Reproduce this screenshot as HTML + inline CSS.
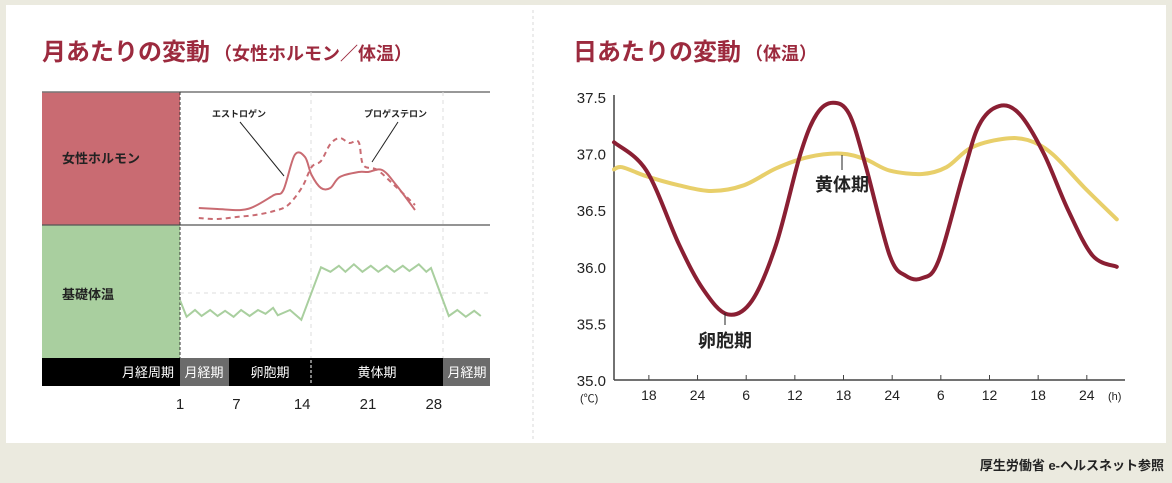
<!DOCTYPE html>
<html><head><meta charset="utf-8">
<style>
html,body{margin:0;padding:0;background:#ebeadf;}
body{width:1172px;height:478px;position:relative;overflow:hidden;font-family:"Liberation Sans","Noto Sans CJK JP",sans-serif;}
svg text{font-family:"Liberation Sans","Noto Sans CJK JP",sans-serif;}
</style></head>
<body>
<svg id="root" width="1172" height="478">
  <rect x="6" y="5" width="1160" height="438" fill="#ffffff"/>
  <line x1="533" y1="10" x2="533" y2="440" stroke="#d8d8d8" stroke-dasharray="3,3"/>
  <text x="42" y="60" font-size="24" font-weight="bold" fill="#9c2a3e">月あたりの変動<tspan font-size="18" dx="4">（女性ホルモン／体温）</tspan></text>
  <text x="573" y="60" font-size="24" font-weight="bold" fill="#9c2a3e">日あたりの変動<tspan font-size="18" dx="4">（体温）</tspan></text>
  <text x="1164" y="470" font-size="13" font-weight="bold" fill="#222" text-anchor="end">厚生労働省 e-ヘルスネット参照</text>

  <!-- left chart -->
  <g id="left">
    <rect x="42" y="92" width="138" height="133" fill="#c96b72"/>
    <rect x="42" y="225" width="138" height="133" fill="#a9cf9f"/>
    <text x="62" y="163" font-size="13" font-weight="bold" fill="#222">女性ホルモン</text>
    <text x="62" y="299" font-size="13" font-weight="bold" fill="#222">基礎体温</text>
    <line x1="42" y1="92" x2="490" y2="92" stroke="#777" stroke-width="1.5"/>
    <line x1="42" y1="225" x2="490" y2="225" stroke="#555" stroke-width="1.2"/>
    <line x1="180" y1="92" x2="180" y2="358" stroke="#333" stroke-dasharray="3,2"/>
    <line x1="311" y1="92" x2="311" y2="358" stroke="#ddd" stroke-dasharray="4,4"/>
    <line x1="443" y1="92" x2="443" y2="358" stroke="#ddd" stroke-dasharray="4,4"/>
    <line x1="180" y1="293" x2="490" y2="293" stroke="#ddd" stroke-dasharray="4,4"/>
    <rect x="42" y="358" width="448" height="28" fill="#000"/>
    <rect x="180" y="358" width="49" height="28" fill="#6b6b6b"/>
    <rect x="443" y="358" width="47" height="28" fill="#6b6b6b"/>
    <line x1="311" y1="360" x2="311" y2="384" stroke="#fff" stroke-dasharray="3,2"/>
    <text x="174" y="377" font-size="13" fill="#fff" text-anchor="end">月経周期</text>
    <text x="204" y="377" font-size="13" fill="#fff" text-anchor="middle">月経期</text>
    <text x="270" y="377" font-size="13" fill="#fff" text-anchor="middle">卵胞期</text>
    <text x="377" y="377" font-size="13" fill="#fff" text-anchor="middle">黄体期</text>
    <text x="467" y="377" font-size="13" fill="#fff" text-anchor="middle">月経期</text>
    <g id="leftTicks"></g>
    <path id="progPath" fill="none" stroke="#c96b72" stroke-width="2" stroke-dasharray="5,4"/>
    <path id="estPath" fill="none" stroke="#c96b72" stroke-width="2"/>
    <path id="bbtPath" fill="none" stroke="#a9cf9f" stroke-width="2"/>
    <text x="212" y="117" font-size="9" font-weight="bold" fill="#222">エストロゲン</text>
    <line x1="240" y1="122" x2="284" y2="176" stroke="#222" stroke-width="1"/>
    <text x="364" y="117" font-size="9" font-weight="bold" fill="#222">プロゲステロン</text>
    <line x1="398" y1="122" x2="372" y2="162" stroke="#222" stroke-width="1"/>
  </g>

  <!-- right chart -->
  <g id="right">
    <line x1="614" y1="95" x2="614" y2="380" stroke="#444" stroke-width="1.5"/>
    <line x1="614" y1="380" x2="1125" y2="380" stroke="#444" stroke-width="1.5"/>
    <g id="yTicks"></g><g id="xTicks"></g>
    <text x="580" y="402" font-size="11" fill="#222">(℃)</text>
    <text x="1108" y="400" font-size="11" fill="#222">(h)</text>
    <path id="lutPath" fill="none" stroke="#e8cf6a" stroke-width="4" stroke-linecap="round"/>
    <path id="folPath" fill="none" stroke="#8a1f33" stroke-width="4" stroke-linecap="round"/>
    <line x1="842" y1="155" x2="842" y2="170" stroke="#222"/>
    <text x="842" y="191" font-size="18" font-weight="bold" fill="#222" text-anchor="middle">黄体期</text>
    <line x1="725" y1="313" x2="725" y2="325" stroke="#222"/>
    <text x="725" y="347" font-size="18" font-weight="bold" fill="#222" text-anchor="middle">卵胞期</text>
  </g>
</svg>
<script>
// ---- left chart data ----
const cycleDayTicks = [1, 7, 14, 21, 28];
const estrogenDays = [3, 5, 7.5, 9, 11, 12, 13.2, 14.3, 15, 16, 17, 18, 20, 21, 22.5, 24, 26];
const estrogenLevels = [17, 16, 15, 19, 30, 35, 70, 68, 50, 37, 37, 48, 53, 53, 55, 40, 15];
const progesteroneDays = [3, 5, 7, 9, 11, 12.5, 14, 15, 16, 17, 18, 19, 20, 20.5, 22, 24, 26];
const progesteroneLevels = [7, 6, 8, 10, 14, 20, 38, 58, 64, 81, 87, 82, 83, 60, 55, 38, 20];
const bbtDays = [1,1.7,2.6,3.3,4.2,5,5.8,6.7,7.5,8.4,9.3,10.1,10.9,11.4,12.7,13.9,16,17,17.9,18.6,19.5,20.4,21.3,22.1,23,23.8,24.7,25.4,26.4,27.2,27.7,29.6,30.5,31.4,32.3,33];
const bbtTemps = [36.37,36.15,36.24,36.16,36.24,36.16,36.23,36.15,36.24,36.16,36.24,36.19,36.27,36.17,36.24,36.11,36.81,36.75,36.83,36.75,36.85,36.75,36.83,36.75,36.83,36.75,36.83,36.76,36.85,36.75,36.8,36.16,36.24,36.15,36.23,36.16];
// ---- right chart data ----
const yTickValues = [35.0, 35.5, 36.0, 36.5, 37.0, 37.5];
const xTickHours = [4.3, 10.3, 16.3, 22.3, 28.3, 34.3, 40.3, 46.3, 52.3, 58.3];
const xTickLabels = ["18","24","6","12","18","24","6","12","18","24"];
const follicularHours = [0,4,8,11,14,17,20,23,25,27,29,31,34,36,38,40,43,45,47.5,50,53,56,59,62];
const follicularTemps = [37.1,36.85,36.2,35.8,35.58,35.7,36.2,37.0,37.35,37.45,37.35,36.9,36.1,35.92,35.9,36.05,36.8,37.25,37.42,37.35,37.0,36.5,36.1,36.0];
const lutealHours = [0,1,4,8,12,16,20,24,28,31,34,38,41,44,48,51,54,58,62];
const lutealTemps = [36.86,36.88,36.8,36.72,36.67,36.72,36.87,36.97,37.0,36.95,36.85,36.82,36.88,37.05,37.13,37.12,37.0,36.7,36.42];

const NS = "http://www.w3.org/2000/svg";
const dayX = d => 180 + (d - 1) * 9.4;
const hormoneY = v => 225 - v;
const bbtY = t => 313 - (t - 36.2) * 75;
const hourX = h => 614 + h * 8.11;
const tempY = t => 380 - (t - 35) * 113.2;

function smooth(pts) {
  let d = "M" + pts[0][0].toFixed(1) + "," + pts[0][1].toFixed(1);
  for (let i = 0; i < pts.length - 1; i++) {
    const p0 = pts[Math.max(0, i - 1)], p1 = pts[i], p2 = pts[i + 1], p3 = pts[Math.min(pts.length - 1, i + 2)];
    const c1 = [p1[0] + (p2[0] - p0[0]) / 6, p1[1] + (p2[1] - p0[1]) / 6];
    const c2 = [p2[0] - (p3[0] - p1[0]) / 6, p2[1] - (p3[1] - p1[1]) / 6];
    d += " C" + c1.map(v => v.toFixed(1)).join(",") + " " + c2.map(v => v.toFixed(1)).join(",") + " " + p2[0].toFixed(1) + "," + p2[1].toFixed(1);
  }
  return d;
}
function poly(pts) { return "M" + pts.map(p => p[0].toFixed(1) + "," + p[1].toFixed(1)).join(" L"); }

document.getElementById("estPath").setAttribute("d", smooth(estrogenDays.map((d, i) => [dayX(d), hormoneY(estrogenLevels[i])])));
document.getElementById("progPath").setAttribute("d", smooth(progesteroneDays.map((d, i) => [dayX(d), hormoneY(progesteroneLevels[i])])));
document.getElementById("bbtPath").setAttribute("d", poly(bbtDays.map((d, i) => [dayX(d), bbtY(bbtTemps[i])])));
document.getElementById("folPath").setAttribute("d", smooth(follicularHours.map((h, i) => [hourX(h), tempY(follicularTemps[i])])));
document.getElementById("lutPath").setAttribute("d", smooth(lutealHours.map((h, i) => [hourX(h), tempY(lutealTemps[i])])));

const lt = document.getElementById("leftTicks");
cycleDayTicks.forEach(d => {
  const t = document.createElementNS(NS, "text");
  
  
  t.setAttribute("x", dayX(d)); t.setAttribute("y", 409);
  t.setAttribute("font-size", "15"); t.setAttribute("text-anchor", "middle"); t.setAttribute("fill", "#222");
  t.textContent = d; lt.appendChild(t);
});
const yt = document.getElementById("yTicks");
yTickValues.forEach(v => {
  const t = document.createElementNS(NS, "text");
  
  
  t.setAttribute("x", 606); t.setAttribute("y", tempY(v) + 6);
  t.setAttribute("font-size", "15"); t.setAttribute("text-anchor", "end"); t.setAttribute("fill", "#222");
  t.textContent = v.toFixed(1); yt.appendChild(t);
});
const xt = document.getElementById("xTicks");
xTickHours.forEach((h, i) => {
  const l = document.createElementNS(NS, "line");
  
  
  l.setAttribute("x1", hourX(h)); l.setAttribute("x2", hourX(h));
  l.setAttribute("y1", 375); l.setAttribute("y2", 380); l.setAttribute("stroke", "#444");
  xt.appendChild(l);
  const t = document.createElementNS(NS, "text");
  
  
  t.setAttribute("x", hourX(h)); t.setAttribute("y", 400);
  t.setAttribute("font-size", "14"); t.setAttribute("text-anchor", "middle"); t.setAttribute("fill", "#222");
  t.textContent = xTickLabels[i]; xt.appendChild(t);
});
</script>
</body></html>
